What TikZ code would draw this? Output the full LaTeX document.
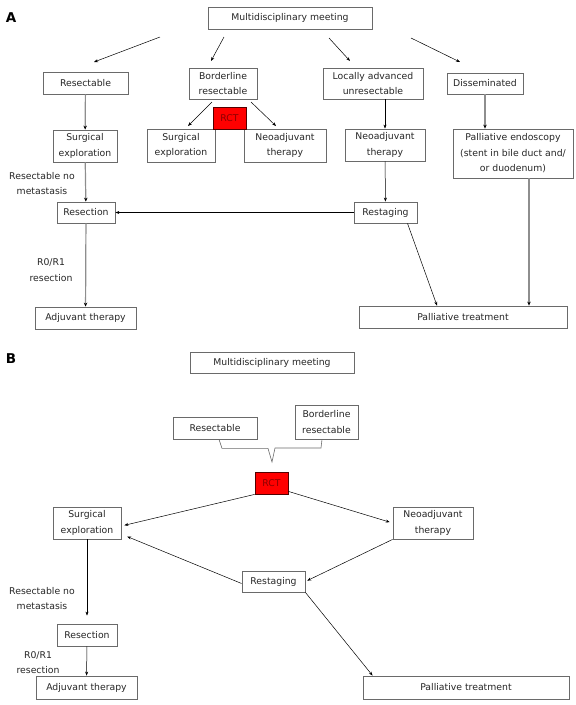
\documentclass[tikz,border=0pt]{standalone}
\usepackage{fontspec}
\setmainfont{DejaVu Sans}
\usepackage{xcolor}
\usetikzlibrary{arrows.meta}
\definecolor{boxgray}{HTML}{6A6A6A}
\definecolor{lingray}{HTML}{8E8E8E}
\definecolor{rctred}{HTML}{FF0000}
\definecolor{rcttext}{HTML}{8A0000}

\begin{document}
\begin{tikzpicture}[x=1pt,y=-1pt,
  every node/.style={font=\fontsize{9.3}{15.5}\selectfont, align=center, inner sep=1pt, text=black!85},
  box/.style={draw=boxgray, line width=0.8pt, fill=white},
  rct/.style={draw=rcttext!60!black, line width=0.8pt, fill=rctred, text=rcttext},
  arr/.style={-{Stealth[length=4pt,width=3pt]}, line width=0.5pt},
  garr/.style={draw=lingray, line width=1.2pt, -{Stealth[length=4pt,width=3.5pt,color=black]}},
  link/.style={draw=boxgray, line width=0.6pt},
  panel/.style={font=\fontsize{13.5}{15}\selectfont\bfseries, text=black}]
\useasboundingbox (0,0) rectangle (576,705);

\node[panel] (labA) at (11,18) {A};
\node[box, minimum width=164, minimum height=22] (meetA) at (290,18) {Multidisciplinary meeting};
\node[box, minimum width=85, minimum height=22] (resA) at (85.5,83) {Resectable};
\node[box, minimum width=68, minimum height=31] (bordA) at (223,83.5) {Borderline\\resectable};
\node[box, minimum width=100, minimum height=31] (locA) at (373,83.5) {Locally advanced\\unresectable};
\node[box, minimum width=76, minimum height=21] (disA) at (485,83.5) {Disseminated};
\node[box, minimum width=64, minimum height=32] (surgA1) at (85,146) {Surgical\\exploration};
\node[box, minimum width=68, minimum height=33] (surgA2) at (181,145.5) {Surgical\\exploration};
\node[box, minimum width=82, minimum height=33] (neoA1) at (285,145.5) {Neoadjuvant\\therapy};
\node[box, minimum width=80, minimum height=32] (neoA2) at (385,145) {Neoadjuvant\\therapy};
\node[box, minimum width=120, minimum height=49] (palA) at (513,153.5) {Palliative endoscopy\\(stent in bile duct and/\\or duodenum)};
\node[rct, minimum width=33, minimum height=22] (rctA) at (229.5,118) {RCT};
\node (lblA1) at (42,183.5) {Resectable no\\metastasis};
\node[box, minimum width=58, minimum height=21] (resecA) at (86,212.5) {Resection};
\node[box, minimum width=63, minimum height=21] (restA) at (385.5,212.5) {Restaging};
\node (lblA2) at (51,270) {R0/R1\\resection};
\node[box, minimum width=101, minimum height=22] (adjA) at (85.5,318) {Adjuvant therapy};
\node[box, minimum width=208, minimum height=22] (palTA) at (463,317) {Palliative treatment};

\coordinate (m1s) at (160,37);
\coordinate (m1e) at (94,62);
\coordinate (m2s) at (224,37);
\coordinate (m2e) at (211,61);
\coordinate (m3s) at (329,38);
\coordinate (m3e) at (350,61);
\coordinate (m4s) at (411,38);
\coordinate (m4e) at (460,62);
\coordinate (b1s) at (212,102);
\coordinate (b1e) at (188,126);
\coordinate (b2s) at (251,102);
\coordinate (b2e) at (276,126);

\draw[arr] (m1s) -- (m1e);
\draw[arr] (m2s) -- (m2e);
\draw[arr] (m3s) -- (m3e);
\draw[arr] (m4s) -- (m4e);
\draw[garr] (resA) -- (surgA1);
\draw[arr] (b1s) -- (b1e);
\draw[arr] (b2s) -- (b2e);
\draw[arr] (locA.south -| neoA2) -- (neoA2);
\draw[garr] (disA) -- (disA |- palA.north);
\draw[garr] (surgA1) -- (resecA);
\draw[arr] (neoA2) -- (restA);
\draw[arr] (restA) -- (resecA);
\draw[arr] ([xshift=22]restA.south) -- ([xshift=-26]palTA.north);
\draw[garr] ([xshift=16]palA.south) -- ([xshift=16]palA.south |- palTA.north);
\draw[garr] (resecA) -- (adjA);

\node[panel] (labB) at (11,359) {B};
\node[box, minimum width=164, minimum height=21] (meetB) at (272,362.5) {Multidisciplinary meeting};
\node[box, minimum width=84, minimum height=22] (resB) at (215,428) {Resectable};
\node[box, minimum width=63, minimum height=34] (bordB) at (326.5,422) {Borderline\\resectable};
\node[rct, minimum width=33, minimum height=22] (rctB) at (271.5,483) {RCT};
\node[box, minimum width=68, minimum height=32] (surgB) at (87,523) {Surgical\\exploration};
\node[box, minimum width=80, minimum height=32] (neoB) at (433,523) {Neoadjuvant\\therapy};
\node[box, minimum width=63, minimum height=21] (restB) at (273.5,581.5) {Restaging};
\node (lblB1) at (42,598.5) {Resectable no\\metastasis};
\node[box, minimum width=60, minimum height=22] (resecB) at (87,635) {Resection};
\node (lblB2) at (38,662.5) {R0/R1\\resection};
\node[box, minimum width=101, minimum height=23] (adjB) at (86.5,687.5) {Adjuvant therapy};
\node[box, minimum width=206, minimum height=23] (palTB) at (466,687.5) {Palliative treatment};

\coordinate (tip) at (272,462);
\draw[link] ([xshift=4]resB.south) -- ++(3,9) -- ++(46,0) -- (tip) -- ++(3,-14) -- ++(46,0) -- ([xshift=-4.5]bordB.south);

\draw[arr, shorten >=3] (rctB.south west) -- ([yshift=-3]surgB.east);
\draw[arr, shorten >=3] ([yshift=3]rctB.south east) -- (neoB.west);
\draw[arr, shorten >=2] (neoB.south west) -- (restB.east);
\draw[arr, shorten >=3] ([yshift=-2]restB.west) -- ([xshift=3,yshift=4]surgB.south east);
\draw[arr] (restB.south east) -- ([xshift=10]palTB.north west);
\draw[arr, shorten >=8] (surgB) -- (resecB);
\draw[arr] (resecB) -- (adjB);
\end{tikzpicture}
\end{document}
